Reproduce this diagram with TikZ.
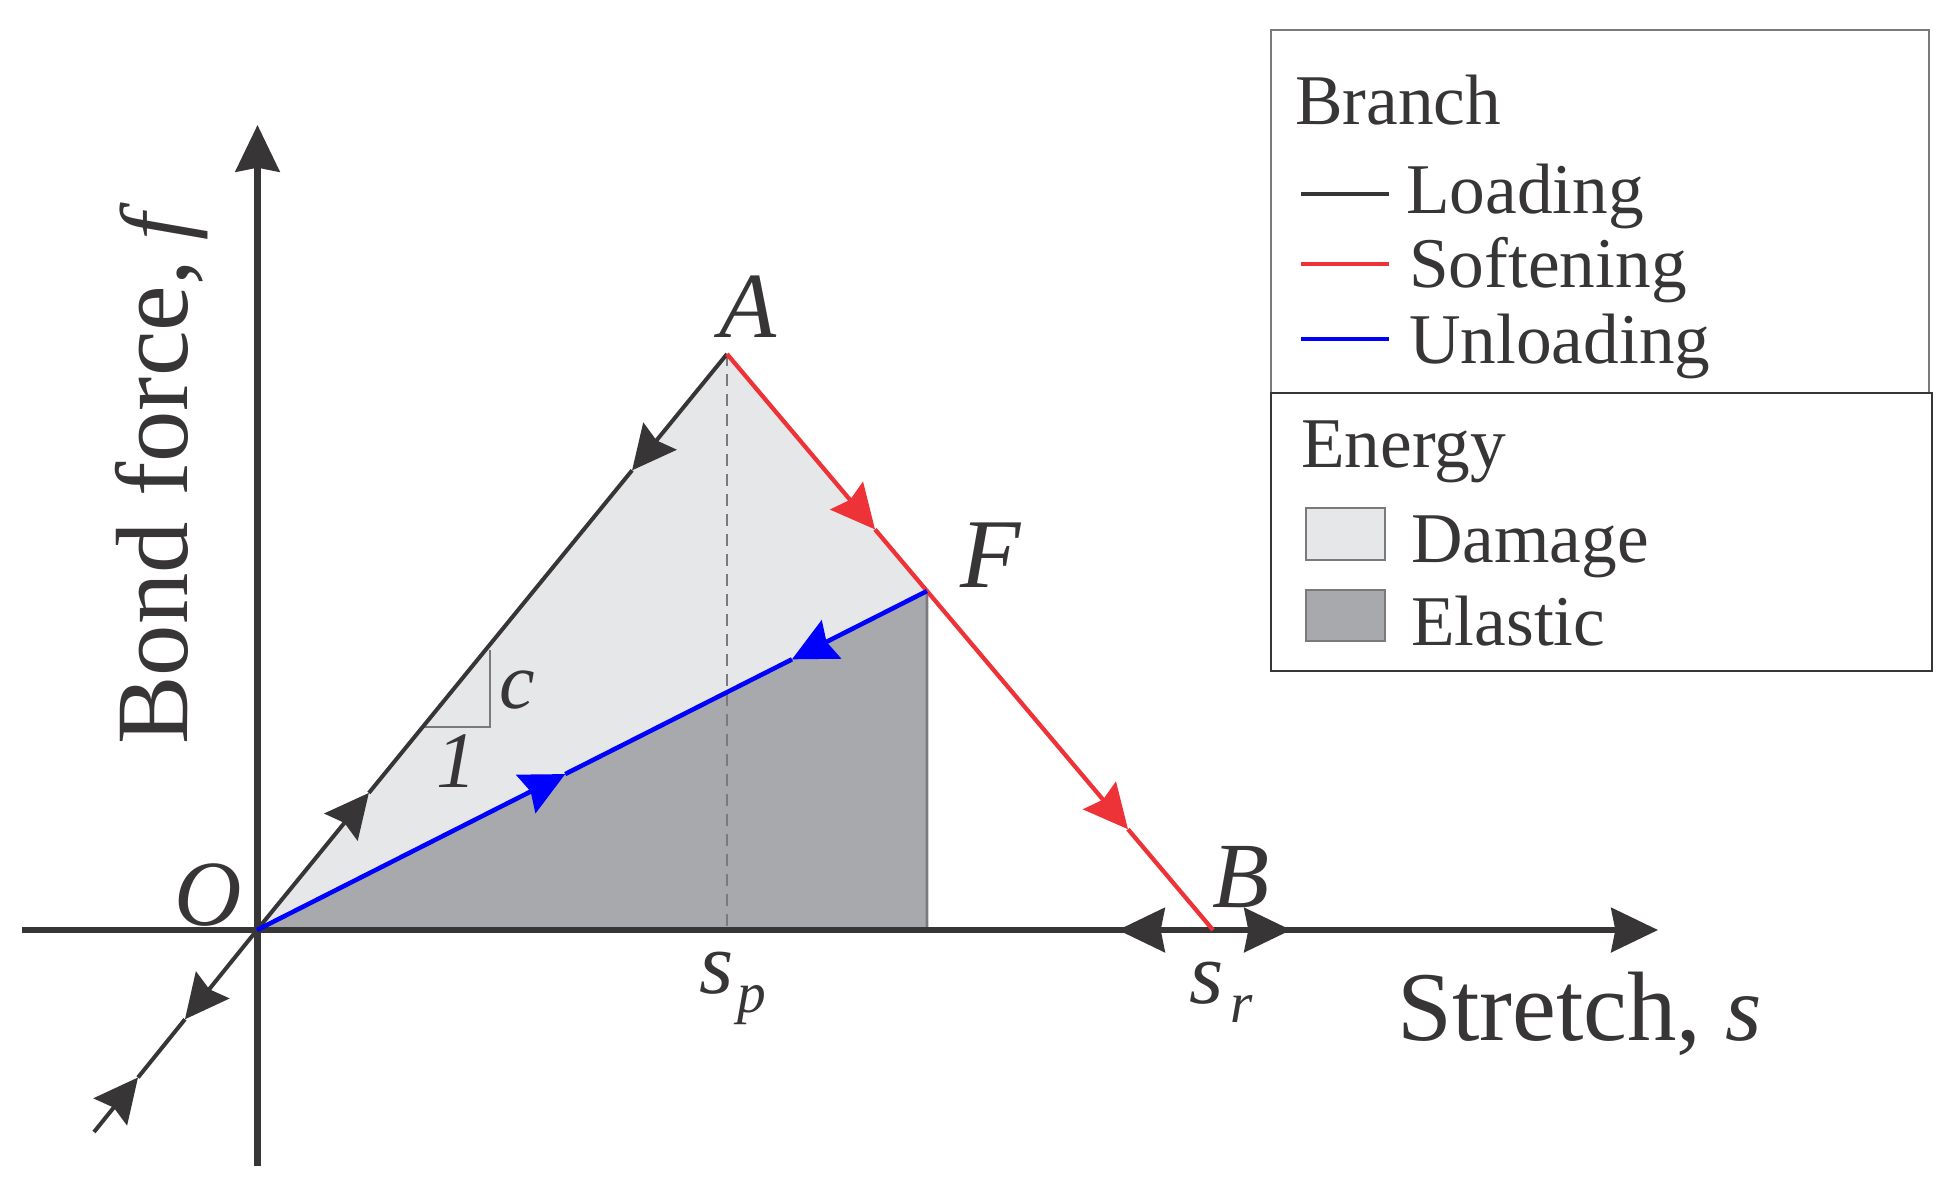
\documentclass[tikz,border=0pt]{standalone}
\usepackage{fontspec}
\setmainfont{Liberation Serif}
\usetikzlibrary{arrows.meta,calc}
\definecolor{ink}{HTML}{373536}
\definecolor{lightfill}{HTML}{E6E7E8}
\definecolor{darkfill}{HTML}{A7A9AC}
\definecolor{softred}{HTML}{EE3338}
\definecolor{unblue}{HTML}{0000FF}
\definecolor{edgegrey}{HTML}{7A7A7C}
\newcommand{\fs}[1]{\fontsize{#1pt}{#1pt}\selectfont}
\tikzset{
  axisline/.style={draw=ink,line width=4.8pt},
  axistip/.style={-{Stealth[length=35pt,width=33pt,inset=3pt]}},
  midtip/.style={-{Stealth[length=33pt,width=32pt,inset=4pt]}},
  loadline/.style={draw=ink,line width=3pt},
  softline/.style={draw=softred,line width=3.2pt},
  unloadline/.style={draw=unblue,line width=3.4pt},
  guide/.style={draw=edgegrey,line width=1.9pt},
  legtext/.style={anchor=base west,inner sep=0pt,text=ink,font=\fs{53.5}},
  biglabel/.style={anchor=base west,inner sep=0pt,text=ink,font=\fs{74}},
  ptlabel/.style={anchor=base west,inner sep=0pt,text=ink,font=\fs{70}\itshape},
  smalllabel/.style={anchor=base west,inner sep=0pt,text=ink,font=\fs{60}\itshape},
  sublabel/.style={anchor=base west,inner sep=0pt,text=ink,font=\fs{43}\itshape},
  swatch/.style={draw=edgegrey,line width=1.6pt},
}
\begin{document}
\begin{tikzpicture}[x=0.75pt,y=-0.75pt]
\useasboundingbox (0,0) rectangle (1959,1195);
\fill[white] (0,0) rectangle (1959,1195);
% key points
\coordinate (O) at (257,930);
\coordinate (A) at (727,354);
\coordinate (B) at (1213,930);
\coordinate (F) at ($(A)!0.4115!(B)$);
\coordinate (Ap) at (727,930);
\coordinate (Fp) at (927,930);
\coordinate (Yt) at (257.5,125);
\coordinate (Yb) at (257.5,1166);
\coordinate (Xl) at (22,930);
\coordinate (Xr) at (1658,930);
\coordinate (Ll) at (94,1132);
\coordinate (T1) at (490,650);
\coordinate (T2) at (490,727);
\coordinate (T3) at (424,727);
% fills
\fill[lightfill] (O) -- (A) -- (F) -- cycle;
\fill[darkfill] (O) -- (F) -- (Fp) -- cycle;
% guides
\draw[guide,dash pattern=on 9pt off 6pt] (A) -- (Ap);
\draw[guide] (F) -- (Fp);
\draw[guide,line width=1.2pt] (T1) -- (T2) -- (T3);
% axes
\draw[axisline,axistip] (Yb) -- (Yt);
\draw[axisline,axistip] (Xl) -- (Xr);
\coordinate (Xa) at (1118,930);
\coordinate (Xc) at (1291,930);
\draw[axisline,axistip] (B) -- (Xa);
\draw[axisline,axistip] (B) -- (Xc);
% loading branch
\coordinate (L1) at ($(O)!0.238!(A)$);
\coordinate (L2) at ($(O)!0.798!(A)$);
\coordinate (L3) at ($(O)!0.442!(Ll)$);
\coordinate (L4) at ($(O)!0.73!(Ll)$);
\draw[loadline,midtip] (O) -- (L1);
\draw[loadline] (L1) -- (L2);
\draw[loadline,midtip] (A) -- (L2);
\draw[loadline,midtip] (O) -- (L3);
\draw[loadline] (L3) -- (L4);
\draw[loadline,midtip] (Ll) -- (L4);
% softening branch
\coordinate (R1) at ($(A)!0.3045!(B)$);
\coordinate (R2) at ($(A)!0.825!(B)$);
\draw[softline,midtip] (A) -- (R1);
\draw[softline,midtip] (R1) -- (R2);
\draw[softline] (R2) -- (B);
% unloading branch
\coordinate (U1) at ($(O)!0.46!(F)$);
\coordinate (U2) at ($(O)!0.7985!(F)$);
\draw[unloadline,midtip] (O) -- (U1);
\draw[unloadline] (U1) -- (U2);
\draw[unloadline,midtip] (F) -- (U2);
% labels
\node[ptlabel] (lA) at (719,337) {A};
\node[ptlabel,font=\fs{74}\itshape] (lF) at (960,587) {F};
\node[ptlabel] (lB) at (1212,907) {B};
\node[ptlabel] (lO) at (174,925) {O};
\node[smalllabel] (lc) at (499,708) {c};
\node[smalllabel] (lone) at (436,787) {1};
\node[smalllabel,font=\fs{66}\itshape] (lsp) at (699,993) {s};
\node[sublabel] (lspb) at (737,1012) {p};
\node[smalllabel,font=\fs{66}\itshape] (lsr) at (1189,1003) {s};
\node[sublabel] (lsrb) at (1230,1022) {r};
\node[biglabel] (xlab) at (1397,1040) {Stretch,\hspace{18pt}{\fs{70}\itshape s}};
\node[biglabel,rotate=90,font=\fs{77}] (ylab) at (187,745) {Bond force,\hspace{15pt}{\fs{72}\itshape f}};
% legend
\draw[edgegrey,line width=1.7pt] (1271,393) -- (1271,30) -- (1929,30) -- (1929,393);
\draw[ink,line width=1.5pt] (1271,393) rectangle (1932,671);
\node[legtext] (tBranch) at (1295,125) {Branch};
\node[legtext] (tLoad) at (1406,214) {Loading};
\node[legtext] (tSoft) at (1409,287) {Softening};
\node[legtext] (tUnl) at (1409,363) {Unloading};
\node[legtext] (tEner) at (1301,467) {Energy};
\node[legtext] (tDam) at (1411,562) {Damage};
\node[legtext] (tEla) at (1411,645) {Elastic};
\draw[loadline] (1301,194) -- (1389,194);
\draw[softline] (1301,264) -- (1389,264);
\draw[unloadline] (1301,339) -- (1389,339);
\draw[swatch,fill=lightfill] (1306,508) rectangle (1385,560);
\draw[swatch,fill=darkfill] (1306,590) rectangle (1385,641);
\end{tikzpicture}
\end{document}
